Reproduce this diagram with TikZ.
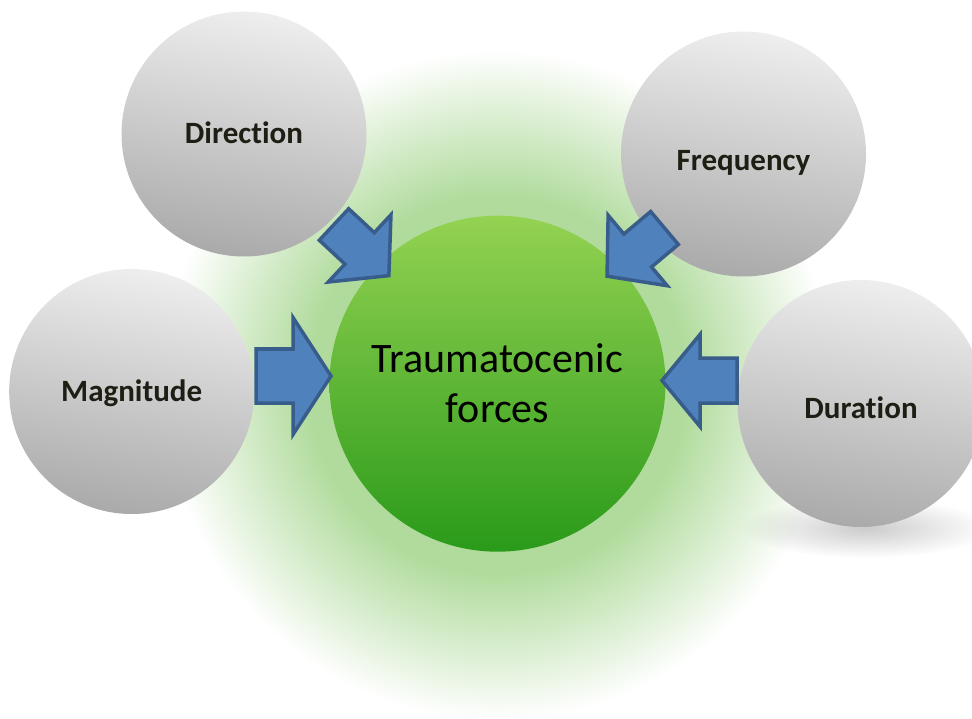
\documentclass[tikz,border=0pt]{standalone}
\usepackage{fontspec}
\setmainfont{Carlito}[Ligatures=NoCommon]
\usetikzlibrary{fadings}

\definecolor{ballhell}{RGB}{238,238,238}
\definecolor{balldunkel}{RGB}{170,170,170}
\definecolor{kernhell}{RGB}{148,210,82}
\definecolor{kerndunkel}{RGB}{42,154,26}
\definecolor{glowgruen}{RGB}{176,219,156}
\definecolor{pfeilblau}{RGB}{79,129,189}
\definecolor{pfeilrand}{RGB}{56,93,138}
\definecolor{labeltext}{RGB}{30,30,20}

\pgfdeclareradialshading{glow}{\pgfpoint{0bp}{0bp}}{%
    color(0bp)=(glowgruen); color(14bp)=(glowgruen);
    color(19bp)=(glowgruen!55!white); color(25bp)=(white); color(50bp)=(white)}
\tikzfading[name=weich, inner color=transparent!55, outer color=transparent!100]

\tikzset{
    ball/.style={circle, minimum size=245pt, inner sep=0pt,
        top color=ballhell, bottom color=balldunkel, shading angle=-10,
        font=\bfseries\fontsize{31}{37}\selectfont, text=labeltext,
        text height=19.6pt, text depth=0pt},
    kern/.style={circle, minimum size=336pt, inner sep=0pt,
        top color=kernhell, bottom color=kerndunkel,
        font=\fontsize{42}{50}\selectfont, text=black},
    pfeil/.style={fill=pfeilblau, draw=pfeilrand, line width=3.5pt, line join=miter},
    pics/blockpfeil/.style n args={3}{code={
        \draw[pfeil] (0,-#1/2) -- (75-#3,-#1/2) -- (75-#3,-#2/2) -- (75,0)
            -- (75-#3,#2/2) -- (75-#3,#1/2) -- (0,#1/2) -- cycle;}}
}

\begin{document}
\begin{tikzpicture}[x=1pt, y=-1pt, every text node part/.style={align=center}]
\useasboundingbox (0,0) rectangle (972,719);

%Hintergrund
    \shade[shading=glow] (497,385) circle (335);
    \fill[black!45, path fading=weich] (866,528) ellipse (125 and 30);

%Kreise
    \node[kern] (kraft) at (497.5,383.7) {Traumatocenic\\forces};
    \node[ball] (direction) at (244,134) {Direction};
    \node[ball, text height=33.6pt] (frequency) at (743.5,154) {Frequency};
    \node[ball] (magnitude) at (131.7,391.5) {Magnitude};
    \node[ball, text height=29.6pt, minimum size=247pt] (duration) at (861,403.5) {Duration};

%Pfeile
    \pic[rotate=-43] at (334,224.5) {blockpfeil={43}{92}{40}};
    \pic[rotate=-140] at (664.5,228) {blockpfeil={43}{92}{40}};
    \pic at (256,376) {blockpfeil={54}{117}{38}};
    \pic[rotate=180] at (737,380.5) {blockpfeil={45}{92}{38}};

\end{tikzpicture}
\end{document}
